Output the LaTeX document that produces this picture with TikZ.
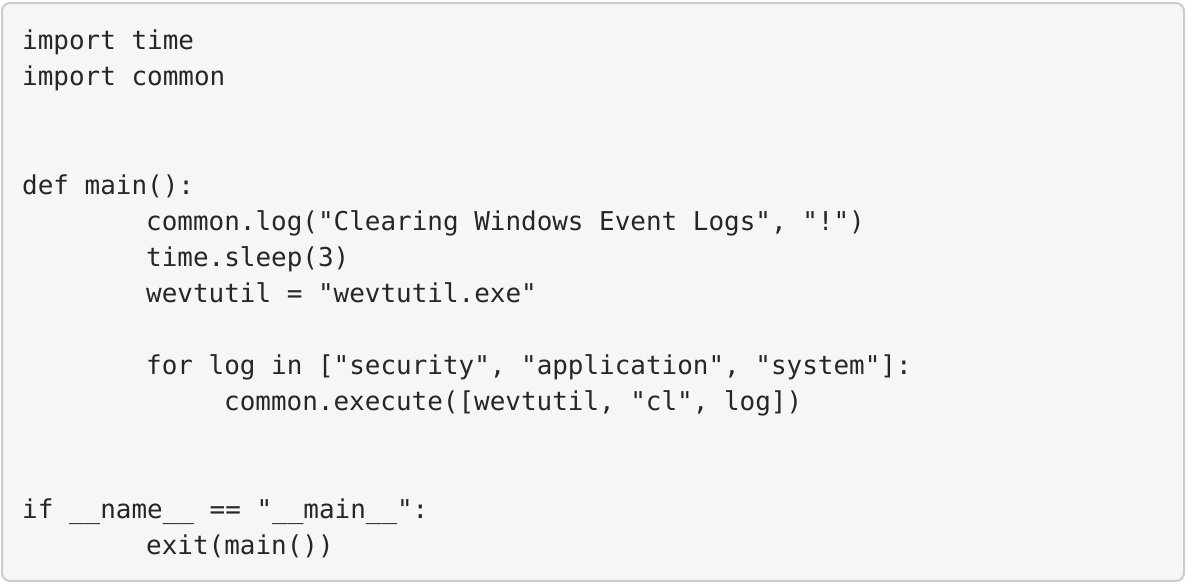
\documentclass[tikz,border=0pt]{standalone}
\usepackage{fontspec}
\usepackage{xcolor}
\newfontfamily\codefont{DejaVu Sans Mono}
\definecolor{codebg}{HTML}{F6F6F6}
\definecolor{codeframe}{HTML}{CCCCCC}
\definecolor{codeink}{HTML}{262626}

\begin{document}
\begin{tikzpicture}[
  x=1pt, y=-1pt,
  codeline/.style={anchor=base west, inner sep=0pt, text=codeink,
                   font=\codefont\fontsize{25.95}{36}\selectfont}
]
\useasboundingbox (0,0) rectangle (1190,588);

% ---- FRAME ----
\draw[codeframe, line width=2pt, fill=codebg, rounded corners=8pt]
  (2,3) rectangle (1184,581);

% ---- CODE LINES (baselines every 36px) ----
\node[codeline] (imptime) at (22, 50) {import time};
\node[codeline] (impcommon) at (22, 86) {import common};

\node[codeline] (defmain) at (22, 194) {def main():};
\node[codeline] (logcall) at (146, 230)
  {common.log("Clearing Windows Event Logs", "!")};
\node[codeline] (sleep) at (146, 266) {time.sleep(3)};
\node[codeline] (wevt) at (146, 302) {wevtutil = "wevtutil.exe"};

\node[codeline] (forloop) at (146, 374)
  {for log in ["security", "application", "system"]:};
\node[codeline] (execute) at (224, 410)
  {common.execute([wevtutil, "cl", log])};

\node[codeline] (ifmain) at (22, 518)
  {if \_\_name\_\_ == "\_\_main\_\_":};
\node[codeline] (exitmain) at (146, 554) {exit(main())};

\end{tikzpicture}
\end{document}
